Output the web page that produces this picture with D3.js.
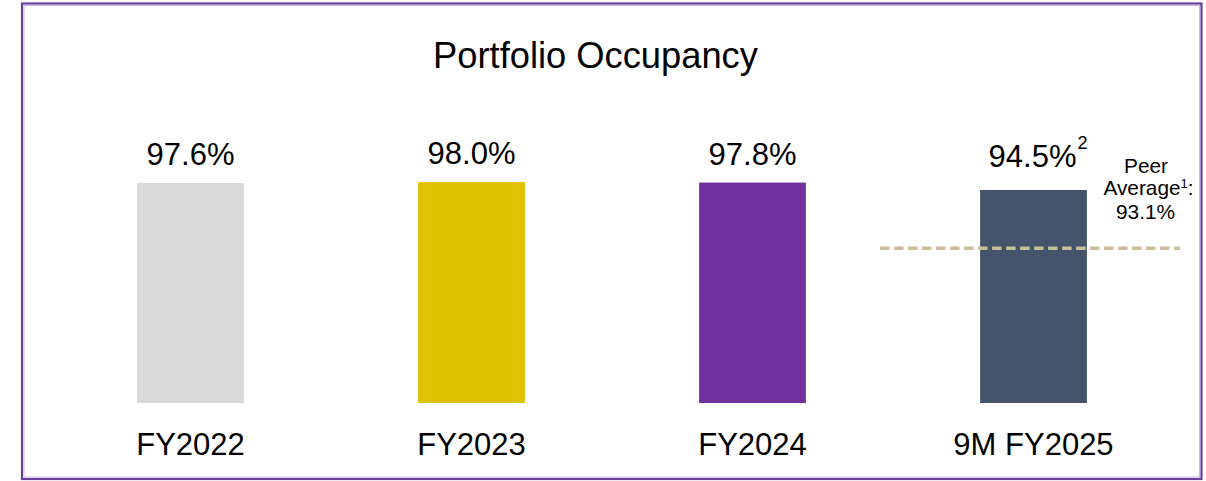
<!DOCTYPE html>
<html>
<head>
<meta charset="utf-8">
<script src="https://cdn.jsdelivr.net/npm/d3@7/dist/d3.min.js"></script>
<style>
  html, body { margin: 0; padding: 0; background: #ffffff; }
  svg { display: block; font-family: "Liberation Sans", Arial, sans-serif; }
</style>
</head>
<body>
<svg id="chart" width="1206" height="481"></svg>
<script>
// ---- data ----
const categories = ["FY2022", "FY2023", "FY2024", "9M FY2025"];
const occupancy = [97.6, 98.0, 97.8, 94.5];
const valueLabels = ["97.6%", "98.0%", "97.8%", "94.5%"];
const footnotes = ["", "", "", "2"];
const barColors = ["#d9d9d9", "#dfc100", "#7030a0", "#44546a"];
const peerLabelLines = ["Peer", "Average", "93.1%"];
const peerAverage = 93.1;
const title = "Portfolio Occupancy";

// ---- layout ----
const W = 1206, H = 481;
const svg = d3.select("#chart");

// frame
svg.append("rect")
  .attr("x", 22).attr("y", 3.5)
  .attr("width", 1179.5).attr("height", 475.5)
  .attr("fill", "none")
  .attr("stroke", "#6a3fa0")
  .attr("stroke-width", 2.2);
svg.append("rect")
  .attr("x", 24).attr("y", 5.5)
  .attr("width", 1175.5).attr("height", 471.5)
  .attr("fill", "none")
  .attr("stroke", "#cbb8e4")
  .attr("stroke-width", 1);

svg.append("text")
  .attr("x", 595.5).attr("y", 68)
  .attr("text-anchor", "middle")
  .attr("font-size", 36.3)
  .attr("fill", "#000")
  .text(title);

const x = d3.scaleBand()
  .domain(categories)
  .range([50, 1174])
  .paddingInner(0.62)
  .paddingOuter(0.31);

const y = d3.scaleLinear()
  .domain([0, 100])
  .range([403, 177.6]);

const data = categories.map((c, i) => ({
  cat: c, v: occupancy[i], label: valueLabels[i], note: footnotes[i], color: barColors[i]
}));

svg.selectAll("rect.bar")
  .data(data)
  .join("rect")
  .attr("class", "bar")
  .attr("x", d => x(d.cat))
  .attr("y", d => y(d.v))
  .attr("width", x.bandwidth())
  .attr("height", d => y(0) - y(d.v))
  .attr("fill", d => d.color);

// value labels
svg.selectAll("text.val")
  .data(data)
  .join("text")
  .attr("class", "val")
  .attr("x", d => x(d.cat) + x.bandwidth() / 2 + (d.note ? -1 : 0))
  .attr("y", d => y(d.v) - (d.note ? 22.5 : 18))
  .attr("text-anchor", "middle")
  .attr("font-size", 31)
  .attr("fill", "#000")
  .text(d => d.label);

data.forEach(d => {
  if (d.note) {
    svg.append("text")
      .attr("x", x(d.cat) + x.bandwidth() / 2 + 44)
      .attr("y", y(d.v) - 41)
      .attr("font-size", 18)
      .attr("fill", "#000")
      .text(d.note);
  }
});

// category labels
svg.selectAll("text.cat")
  .data(data)
  .join("text")
  .attr("class", "cat")
  .attr("x", d => x(d.cat) + x.bandwidth() / 2)
  .attr("y", 455)
  .attr("text-anchor", "middle")
  .attr("font-size", 31)
  .attr("fill", "#000")
  .text(d => d.cat);

// peer average reference (annotation placed beside last bar)
const last = categories[categories.length - 1];
const lineX0 = x(last) - 100;
const lineX1 = x(last) + x.bandwidth() + 93;
const peerLineY = 248.3;
svg.append("line")
  .attr("x1", lineX0).attr("x2", lineX1)
  .attr("y1", peerLineY).attr("y2", peerLineY)
  .attr("stroke", "#c8bf98")
  .attr("stroke-width", 3.5)
  .attr("stroke-dasharray", "9.5,4.5");

const peerCx = 1147;
const peerBase = [172.5, 194.5, 219.3];
const pt = svg.append("g").attr("font-size", 20.8).attr("fill", "#000");
pt.append("text").attr("x", peerCx - 1).attr("y", peerBase[0]).attr("text-anchor", "middle").text(peerLabelLines[0]);
const avg = pt.append("text").attr("x", peerCx + 1.5).attr("y", peerBase[1]).attr("text-anchor", "middle");
avg.append("tspan").text(peerLabelLines[1]);
avg.append("tspan").attr("font-size", 13).attr("dy", -7).text("1");
avg.append("tspan").attr("dy", 7).text(":");
pt.append("text").attr("x", peerCx - 1.5).attr("y", peerBase[2]).attr("text-anchor", "middle").text(peerLabelLines[2]);
</script>
</body>
</html>
